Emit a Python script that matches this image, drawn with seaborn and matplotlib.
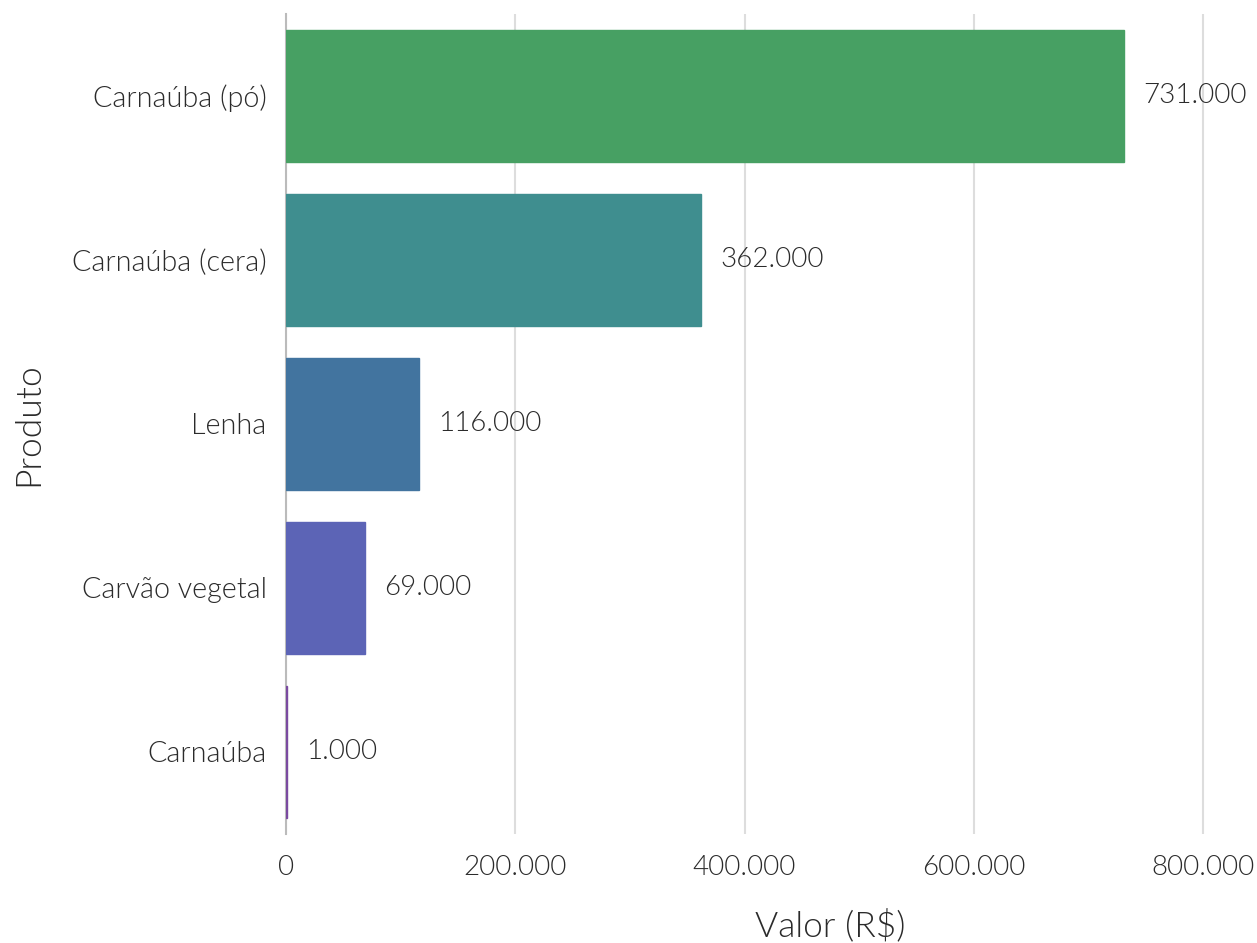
import matplotlib
matplotlib.use('Agg')
import matplotlib.pyplot as plt
import seaborn as sns
import pandas as pd
from matplotlib import font_manager
from matplotlib.ticker import FuncFormatter

# Data
produtos = ['Carnaúba (pó)', 'Carnaúba (cera)', 'Lenha', 'Carvão vegetal', 'Carnaúba']
valores = [731000, 362000, 116000, 69000, 1000]
cores = ['#47a063', '#3f8e8f', '#42749f', '#5c64b6', '#7a4aa0']

df = pd.DataFrame({'Produto': produtos, 'Valor': valores})

sns.set_theme(style='white')
plt.rcParams['font.family'] = ['Lato', 'DejaVu Sans']

# use the Lato Light file if it is there
lato = [f for f in font_manager.fontManager.ttflist if f.name == 'Lato']
light = [f.fname for f in lato if f.fname.replace('_', '-').lower().endswith('lato-light.ttf')]


def fp(size):
    if light:
        return font_manager.FontProperties(fname=light[0], size=size)
    return font_manager.FontProperties(family='Lato', weight='light', size=size)


txt = '#2b2b2b'

fig, ax = plt.subplots(figsize=(12.57, 9.43), dpi=100)
fig.subplots_adjust(left=0.2275, right=0.9936, top=0.9852, bottom=0.1156)

sns.barplot(data=df, x='Valor', y='Produto', hue='Produto', palette=cores,
            legend=False, width=0.8, saturation=1, ax=ax)

# thin edge in the bar colour so the tiny bar still shows
for p in ax.patches:
    p.set_edgecolor(p.get_facecolor())
    p.set_linewidth(1.0)
    p.set_zorder(3)

fmt = lambda v: f'{v:,.0f}'.replace(',', '.')
for cont in ax.containers:
    ax.bar_label(cont, labels=[fmt(b.get_width()) for b in cont],
                 padding=14, fontproperties=fp(20), color=txt)

ax.set_xlim(0, 840000)
ax.set_xticks([0, 200000, 400000, 600000, 800000])
ax.xaxis.set_major_formatter(FuncFormatter(lambda v, p: fmt(v)))
ax.grid(axis='x', color='#dddddd', linewidth=1.5)
ax.set_axisbelow(True)

for s in ['top', 'right', 'bottom']:
    ax.spines[s].set_visible(False)
ax.spines['left'].set_color('#bbbbbb')
ax.spines['left'].set_linewidth(1.5)
ax.spines['left'].set_zorder(2)

ax.tick_params(axis='both', length=0, colors=txt)
ax.tick_params(axis='x', pad=15)
ax.tick_params(axis='y', pad=14)
for lab in ax.get_xticklabels():
    lab.set_fontproperties(fp(20))
for lab in ax.get_yticklabels():
    lab.set_fontproperties(fp(20.7))
ax.set_xlabel('Valor (R$)', fontproperties=fp(25.5), color=txt, labelpad=21, x=0.565)
ax.set_ylabel('Produto', fontproperties=fp(25.5), color=txt, labelpad=20)

plt.savefig('out.png', dpi=100)
